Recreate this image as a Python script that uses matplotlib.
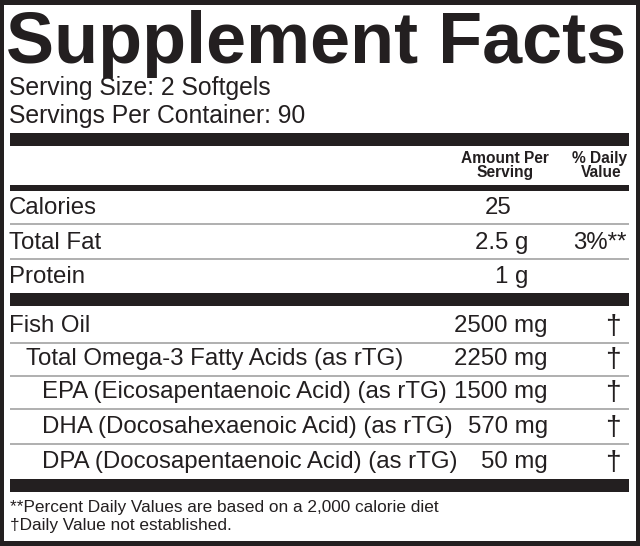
import matplotlib
matplotlib.use("Agg")
import matplotlib.pyplot as plt
from matplotlib.patches import Rectangle

# ---- data ----
title = "Supplement Facts"
serving_size = "2 Softgels"
servings_per_container = 90
header_amount = ["Amount Per", "Serving"]
header_dv = ["% Daily", "Value"]
nutrients = ["Calories", "Total Fat", "Protein"]
nutrient_amounts = ["25", "2.5 g", "1 g"]
nutrient_dv = ["", "3%**", ""]
ingredients = ["Fish Oil",
               "Total Omega-3 Fatty Acids (as rTG)",
               "EPA (Eicosapentaenoic Acid) (as rTG)",
               "DHA (Docosahexaenoic Acid) (as rTG)",
               "DPA (Docosapentaenoic Acid) (as rTG)"]
ingredient_amounts = [2500, 2250, 1500, 570, 50]
ingredient_unit = "mg"
ingredient_dv = ["\u2020", "\u2020", "\u2020", "\u2020", "\u2020"]
footnotes = ["**Percent Daily Values are based on a 2,000 calorie diet",
             "\u2020Daily Value not established."]

# ---- layout ----
W, H = 640, 546
INK = "#231f20"
RULE = "#9a9a9a"
FONT = "Liberation Sans"

fig = plt.figure(figsize=(W / 100, H / 100), dpi=100)
fig.patch.set_facecolor(INK)
ax = fig.add_axes([0, 0, 1, 1])
ax.set_xlim(0, W)
ax.set_ylim(H, 0)
ax.axis("off")

px = 0.72  # points per pixel at dpi 100

# white panel
ax.add_patch(Rectangle((4, 5), 632, 536, facecolor="white", edgecolor="none"))

def bar(y0, y1):
    ax.add_patch(Rectangle((10, y0), 619, y1 - y0, facecolor=INK, edgecolor="none"))

def rule(y):
    ax.plot([10, 629], [y, y], color=RULE, lw=1.1, solid_capstyle="butt")

def txt(x, y, s, size, ha="left", weight="normal"):
    ax.text(x, y, s, fontsize=size * px, ha=ha, va="baseline",
            family=FONT, weight=weight, color=INK)

# title and serving info
txt(6, 63, title, 72, weight="bold")
txt(9, 95, "Serving Size: " + serving_size, 24.8)
txt(9, 123, "Servings Per Container: " + str(servings_per_container), 24.8)

bar(133, 146)
txt(505, 163, header_amount[0], 15.5, ha="center", weight="bold")
txt(505, 177, header_amount[1], 15.5, ha="center", weight="bold")
txt(600, 163, header_dv[0], 15.5, ha="center", weight="bold")
txt(601, 177, header_dv[1], 15.5, ha="center", weight="bold")
bar(185, 191)

row_size = 24
nut_base = [214, 249, 283]
nut_right = [511, 528, 528]
for i, (name, amt, dv) in enumerate(zip(nutrients, nutrient_amounts, nutrient_dv)):
    y = nut_base[i]
    txt(9, y, name, row_size)
    txt(nut_right[i], y, amt, row_size, ha="right")
    if dv:
        txt(627, y, dv, row_size, ha="right")
    if i < len(nutrients) - 1:
        rule(y + 9.5)

bar(293, 306)

ing_base = [332, 365, 398, 433, 468]
ing_x = [9, 25.5, 42, 42, 42]
for i, (name, amt, dv) in enumerate(zip(ingredients, ingredient_amounts, ingredient_dv)):
    y = ing_base[i]
    txt(ing_x[i], y, name, row_size)
    txt(548, y, f"{amt} {ingredient_unit}", row_size, ha="right")
    txt(613, y + 2, dv, 28, ha="center")
    if i < len(ingredients) - 1:
        rule(y + 10.5)

bar(479, 492)

txt(9.5, 512, footnotes[0], 17.3)
txt(9.5, 530, footnotes[1], 17.3)

fig.savefig("out.png", dpi=100, facecolor=INK)
